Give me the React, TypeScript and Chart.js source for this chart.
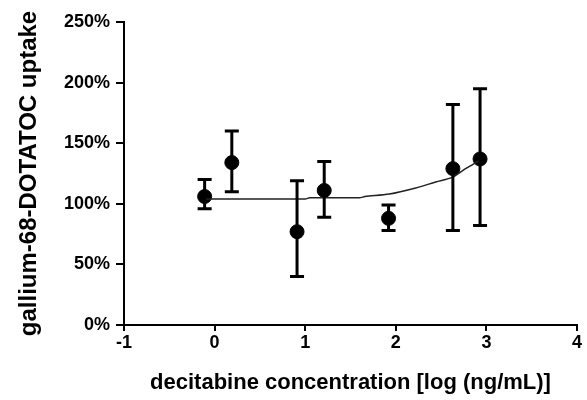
import React, { useEffect, useRef } from "react";
import { Chart, registerables } from "chart.js";

Chart.register(...registerables);

const doseLog = [-0.11, 0.19, 0.91, 1.21, 1.92, 2.63, 2.93];
const uptakeMean = [106, 134, 77, 111, 88, 129, 137];
const uptakeUpper = [120, 160, 119, 135, 99, 182, 195];
const uptakeLower = [96, 110, 40, 89, 78, 78, 82];

const fitX = [-0.11, 1.0, 1.05, 1.6, 1.66, 1.93, 2.22, 2.44, 2.63, 2.77, 2.93];
const fitY = [104, 104, 105, 105, 106, 108, 113, 118, 122, 129, 136];

const xTitle = "decitabine concentration [log (ng/mL)]";
const yTitle = "gallium-68-DOTATOC uptake";

const FONT = "'Liberation Sans', Arial, Helvetica, sans-serif";

const errorBarPlugin = {
  id: "errorBars",
  afterDatasetsDraw(chart: any) {
    const ctx = chart.ctx;
    const xs = chart.scales.x;
    const ys = chart.scales.y;
    ctx.save();
    ctx.strokeStyle = "#000";
    ctx.lineWidth = 3;
    ctx.lineCap = "butt";
    const cap = 7;
    for (let i = 0; i < doseLog.length; i++) {
      const px = xs.getPixelForValue(doseLog[i]);
      const pt = ys.getPixelForValue(uptakeUpper[i]);
      const pb = ys.getPixelForValue(uptakeLower[i]);
      ctx.beginPath();
      ctx.moveTo(px, pt);
      ctx.lineTo(px, pb);
      ctx.moveTo(px - cap, pt);
      ctx.lineTo(px + cap, pt);
      ctx.moveTo(px - cap, pb);
      ctx.lineTo(px + cap, pb);
      ctx.stroke();
    }
    ctx.restore();
  },
};

export default function App() {
  const ref = useRef<HTMLCanvasElement>(null);
  useEffect(() => {
    if (!ref.current) return;
    const chart = new Chart(ref.current, {
      type: "scatter",
      data: {
        datasets: [
          {
            type: "line",
            data: fitX.map((x, i) => ({ x, y: fitY[i] })),
            borderColor: "#222",
            borderWidth: 1.5,
            pointRadius: 0,
            tension: 0.3,
            fill: false,
          } as any,
          {
            data: doseLog.map((x, i) => ({ x, y: uptakeMean[i] })),
            backgroundColor: "#000",
            borderColor: "#000",
            pointRadius: 7,
            pointHoverRadius: 7,
          },
        ],
      },
      options: {
        animation: false,
        responsive: true,
        maintainAspectRatio: false,
        layout: { padding: { top: 22, right: 10, left: 0, bottom: 0 } },
        plugins: { legend: { display: false }, tooltip: { enabled: false } },
        scales: {
          x: {
            type: "linear",
            min: -1,
            max: 4,
            afterFit(scale: any) {
              scale.height = 75;
            },
            ticks: {
              stepSize: 1,
              color: "#000",
              padding: 1,
              font: { family: FONT, weight: "bold", size: 18 },
            },
            grid: {
              drawOnChartArea: false,
              drawTicks: true,
              tickLength: 6,
              color: "#000",
              lineWidth: 2,
            },
            border: { display: true, color: "#000", width: 2 },
            title: {
              display: true,
              text: xTitle,
              color: "#000",
              font: { family: FONT, weight: "bold", size: 22 },
              padding: { top: 0, bottom: 4 },
            },
          },
          y: {
            min: 0,
            max: 250,
            afterFit(scale: any) {
              scale.width = 124;
            },
            ticks: {
              stepSize: 50,
              color: "#000",
              padding: 6,
              font: { family: FONT, weight: "bold", size: 18 },
              callback: (v: any) => v + "%",
            },
            grid: {
              drawOnChartArea: false,
              drawTicks: true,
              tickLength: 8,
              color: "#000",
              lineWidth: 2,
            },
            border: { display: true, color: "#000", width: 2 },
            title: {
              display: true,
              text: yTitle,
              color: "#000",
              font: { family: FONT, weight: "bold", size: 24 },
              padding: { top: 15, bottom: 0 },
            },
          },
        },
      },
      plugins: [errorBarPlugin],
    });
    return () => chart.destroy();
  }, []);
  return (
    <div style={{ position: "absolute", left: 0, top: 0, width: 587, height: 400, background: "#fff" }}>
      <canvas ref={ref} />
    </div>
  );
}
